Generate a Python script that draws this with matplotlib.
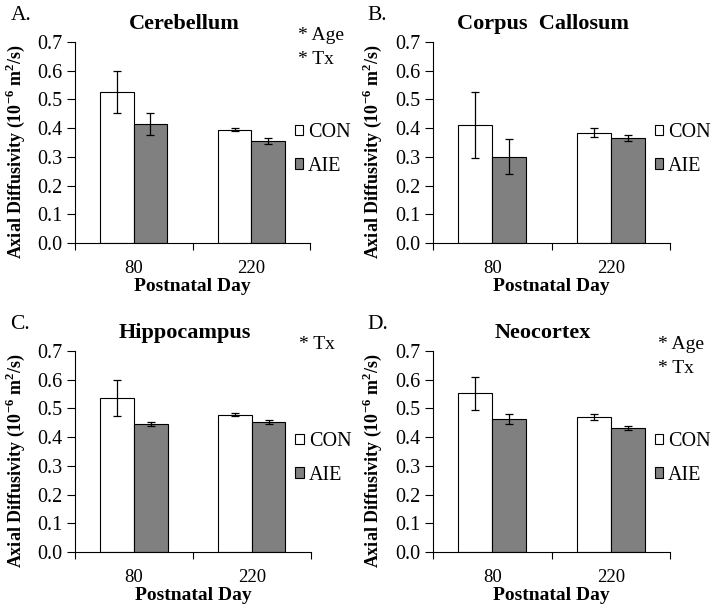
import numpy as np
import matplotlib
matplotlib.use('Agg')
import matplotlib.pyplot as plt
from matplotlib.patches import Patch

plt.rcParams['font.family'] = ['Liberation Serif', 'DejaVu Serif']
plt.rcParams['mathtext.fontset'] = 'custom'
plt.rcParams['mathtext.rm'] = 'Liberation Serif'
plt.rcParams['mathtext.bf'] = 'Liberation Serif:bold'

# data
days = ['80', '220']
groups = ['CON', 'AIE']
regions = ['Cerebellum', 'Corpus  Callosum', 'Hippocampus', 'Neocortex']
panel_letters = ['A.', 'B.', 'C.', 'D.']
stats_notes = ['* Age\n* Tx', '', '* Tx', '* Age\n* Tx']

con_mean = [[0.525, 0.395], [0.410, 0.384], [0.535, 0.478], [0.553, 0.470]]
con_err = [[0.073, 0.005], [0.115, 0.015], [0.063, 0.005], [0.058, 0.010]]
aie_mean = [[0.413, 0.355], [0.301, 0.366], [0.445, 0.452], [0.463, 0.432]]
aie_err = [[0.038, 0.010], [0.062, 0.010], [0.007, 0.008], [0.017, 0.008]]

con_color = 'white'
aie_color = '#808080'

fig = plt.figure(figsize=(7.21, 6.13), dpi=100)

# axes boxes in figure fractions
boxes = [
    [0.104, 0.6036, 0.326, 0.328],
    [0.6005, 0.6036, 0.329, 0.328],
    [0.104, 0.0995, 0.327, 0.328],
    [0.6005, 0.0995, 0.329, 0.328],
]

x = np.arange(len(days))
w = 0.285

for i in range(4):
    ax = fig.add_axes(boxes[i])
    ekw = dict(ecolor='black', elinewidth=0.9, capsize=3, capthick=0.9)
    ax.bar(x - w / 2, con_mean[i], w, color=con_color, edgecolor='black', linewidth=0.8,
           yerr=con_err[i], error_kw=ekw)
    ax.bar(x + w / 2, aie_mean[i], w, color=aie_color, edgecolor='black', linewidth=0.8,
           yerr=aie_err[i], error_kw=ekw)

    ax.set_xlim(-0.5, 1.5)
    ax.set_ylim(0, 0.7)
    ax.set_yticks(np.arange(0, 0.71, 0.1))
    ax.set_yticklabels(['%.1f' % v for v in np.arange(0, 0.71, 0.1)], fontsize=14.5)
    ax.set_xticks([-0.5, 0.5, 1.5])
    ax.set_xticklabels([])
    ax.set_xticks(x, minor=True)
    ax.set_xticklabels(days, minor=True, fontsize=13.5)
    ax.tick_params(axis='x', which='minor', length=0, pad=12)
    ax.tick_params(axis='x', which='major', length=5, width=0.8, direction='out')
    ax.tick_params(axis='y', length=6, width=0.8, direction='out', pad=3)
    ax.spines['top'].set_visible(False)
    ax.spines['right'].set_visible(False)
    ax.spines['left'].set_linewidth(0.8)
    ax.spines['bottom'].set_linewidth(0.8)

    ax.set_xlabel('Postnatal Day', fontsize=14, fontweight='bold', labelpad=1)
    ax.set_ylabel(r'Axial Diffusivity (10$^{\mathbf{-6}}$ m$^{\mathbf{2}}$/s)', fontsize=13,
                  fontweight='bold')
    ax.yaxis.set_label_coords(-0.205, 0.455)
    ax.set_title(regions[i], fontsize=16, fontweight='bold', pad=9, x=0.465)

    ax.text(-0.275, 1.13, panel_letters[i], transform=ax.transAxes, fontsize=15.5,
            ha='left', va='center')
    if stats_notes[i]:
        ax.text(0.95, 1.075, stats_notes[i], transform=ax.transAxes, fontsize=14,
                ha='left', va='top', linespacing=1.55)

    handles = [Patch(facecolor=con_color, edgecolor='black', linewidth=0.8),
               Patch(facecolor=aie_color, edgecolor='black', linewidth=0.8)]
    ax.legend(handles, groups, loc='center left', bbox_to_anchor=(0.935, 0.465),
              frameon=False, fontsize=14.5, handlelength=0.42, handleheight=0.42,
              handletextpad=0.25, labelspacing=0.7, borderaxespad=0, borderpad=0)

plt.savefig('out.png', dpi=100)
